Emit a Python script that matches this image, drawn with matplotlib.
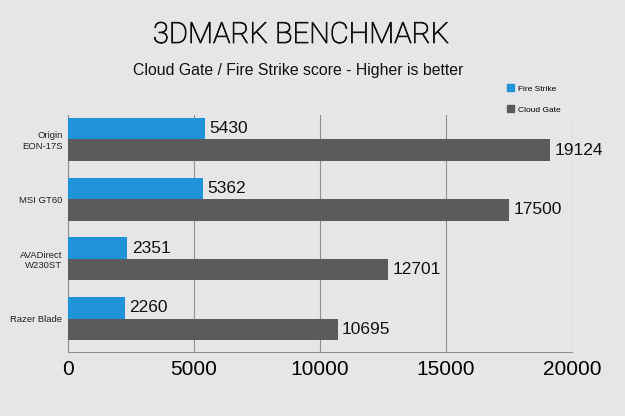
import matplotlib
matplotlib.use("Agg")
import matplotlib.pyplot as plt
import matplotlib.patheffects as pe
import numpy as np
from matplotlib.patches import Patch

categories = ["Origin\nEON-17S", "MSI GT60", "AVADirect\nW230ST", "Razer Blade"]
fire_strike = [5430, 5362, 2351, 2260]
cloud_gate = [19124, 17500, 12701, 10695]
xticks = [0, 5000, 10000, 15000, 20000]

bg = "#e6e6e8"
blue = "#1e93da"
gray = "#5b5b5d"

fig = plt.figure(figsize=(6.25, 4.16), dpi=100, facecolor=bg)
ax = fig.add_axes([68/625, 1-352/416, (572-68)/625, (352-115)/416])
ax.set_facecolor(bg)

y = np.arange(len(categories))
h = 0.36
ax.barh(y - h/2, fire_strike, height=h, color=blue, zorder=3, label="Fire Strike")
ax.barh(y + h/2, cloud_gate, height=h, color=gray, zorder=3, label="Cloud Gate")

for yi, v in zip(y - h/2, fire_strike):
    ax.text(v + 180, yi, str(v), va="center", ha="left", fontsize=12.5,
            family="Liberation Sans", color="#111111", zorder=4)
for yi, v in zip(y + h/2, cloud_gate):
    ax.text(v + 180, yi, str(v), va="center", ha="left", fontsize=12.5,
            family="Liberation Sans", color="#111111", zorder=4)

ax.set_xlim(0, 20000)
ax.set_ylim(3.56, -0.41)
ax.set_xticks(xticks)
ax.set_xticklabels([str(t) for t in xticks], fontsize=15, family="Liberation Sans")
ax.set_yticks(y)
ax.set_yticklabels(categories, fontsize=6.8, family="Liberation Sans", color="#222222")
ax.tick_params(axis="both", length=0)
ax.tick_params(axis="x", pad=6)
ax.tick_params(axis="y", pad=4)
ax.grid(axis="x", color="#8f8f8f", linewidth=0.8, zorder=0)
for s in ["top", "right"]:
    ax.spines[s].set_visible(False)
ax.spines["left"].set_color("#8f8f8f")
ax.spines["bottom"].set_color("#8f8f8f")
ax.spines["left"].set_linewidth(0.8)
ax.spines["bottom"].set_linewidth(0.8)

handles = [Patch(color=blue, label="Fire Strike"), Patch(color=gray, label="Cloud Gate")]
leg = fig.legend(handles=handles, loc="upper left", bbox_to_anchor=(499/625, 1-77/416),
                 frameon=False, handlelength=0.9, handleheight=0.9,
                 handletextpad=0.5, labelspacing=1.5, prop={"family": "Liberation Sans", "size": 6})

fig.text(301/625, 1-35/416, "3DMARK BENCHMARK", ha="center", va="center", fontsize=21,
         family="Roboto", fontweight="light", color="#111111",
         path_effects=[pe.withStroke(linewidth=0.6, foreground="#111111")])
fig.text(298/625, 1-70/416, "Cloud Gate / Fire Strike score - Higher is better", ha="center",
         va="center", fontsize=11.4, family="Liberation Sans", color="#111111")

fig.savefig("out.png", dpi=100, facecolor=bg)
